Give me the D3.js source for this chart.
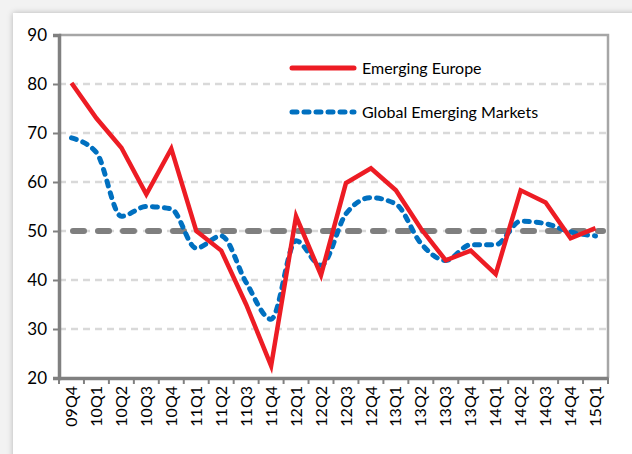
<!DOCTYPE html>
<html>
<head>
<meta charset="utf-8">
<script src="https://cdn.jsdelivr.net/npm/d3@7"></script>
<style>
  body { margin: 0; background: #f2f2f2; font-family: Lato, "Open Sans", sans-serif; }
  #card { position: absolute; left: 13px; top: 13px; width: 640px; height: 460px; background: #fff;
          box-shadow: 0 0 6px rgba(0,0,0,0.25); }
  svg { position: absolute; left: 0; top: 0; }
</style>
</head>
<body>
<div id="card"></div>
<svg id="chart" width="632" height="454"></svg>
<script>
// quarters along the x axis
var quarters = ["09Q4","10Q1","10Q2","10Q3","10Q4","11Q1","11Q2","11Q3","11Q4","12Q1","12Q2",
                "12Q3","12Q4","13Q1","13Q2","13Q3","13Q4","14Q1","14Q2","14Q3","14Q4","15Q1"];
var europe = [80.2, 73, 67, 57.5, 66.8, 50, 46, 35, 22.5, 53, 41,
              59.8, 62.8, 58.3, 50.5, 44, 46, 41.2, 58.3, 55.8, 48.5, 50.6];
var globalEM = [69, 66, 53, 55, 54.5, 46.5, 49, 39.5, 32, 48, 43,
                53.5, 56.8, 55.5, 47.5, 44, 47.2, 47.2, 52, 51.5, 49.8, 49];
var yTicks = [20, 30, 40, 50, 60, 70, 80, 90];
var neutral = 50;

var plotL = 59, plotR = 608, plotT = 35, plotB = 378;
var svg = d3.select("#chart");

var x = d3.scaleBand().domain(quarters).range([plotL, plotR]);
var y = d3.scaleLinear().domain([20, 90]).range([plotB, plotT]);

// grid lines
svg.selectAll(".grid").data(yTicks.filter(function(d){ return d != 20 && d != 90; }))
  .enter().append("line")
  .attr("x1", plotL).attr("x2", plotR)
  .attr("y1", function(d){ return y(d); }).attr("y2", function(d){ return y(d); })
  .attr("stroke", "#d9d9d9").attr("stroke-width", 2.5).attr("stroke-dasharray", "7,5");

// top and right frame
svg.append("path")
  .attr("d", "M" + plotL + "," + plotT + "H" + plotR + "V" + plotB)
  .attr("fill", "none").attr("stroke", "#a6a6a6").attr("stroke-width", 2.5);

// 50 threshold
svg.append("line")
  .attr("x1", plotL + 14).attr("x2", plotR - 5)
  .attr("y1", y(neutral)).attr("y2", y(neutral))
  .attr("stroke", "#7f7f7f").attr("stroke-width", 6)
  .attr("stroke-dasharray", "11,14").attr("stroke-linecap", "round");

// axes
var yAxis = svg.append("g").attr("transform", "translate(" + plotL + ",0)")
  .call(d3.axisLeft(y).tickValues(yTicks).tickSize(6).tickPadding(6));
var xAxis = svg.append("g").attr("transform", "translate(0," + plotB + ")")
  .call(d3.axisBottom(x).tickSize(0).tickPadding(8));

yAxis.selectAll("line").attr("stroke", "#808080").attr("stroke-width", 2);
yAxis.select(".domain").attr("stroke", "#808080").attr("stroke-width", 3.5);
yAxis.selectAll("text").attr("font-size", 17).attr("fill", "#000").attr("font-family", "Lato");

xAxis.select(".domain").attr("stroke", "#808080").attr("stroke-width", 3.5);
xAxis.selectAll("text")
  .attr("font-size", 16).attr("fill", "#000").attr("font-family", "Lato")
  .attr("transform", "rotate(-90)")
  .attr("text-anchor", "end")
  .attr("x", -8).attr("y", 0).attr("dy", "0.35em");

// tick marks at category borders
var borders = quarters.map(function(q){ return x(q); }).concat([plotR]);
xAxis.selectAll(".border").data(borders).enter().append("line")
  .attr("x1", function(d){ return d; }).attr("x2", function(d){ return d; })
  .attr("y1", 0).attr("y2", 6)
  .attr("stroke", "#808080").attr("stroke-width", 2);

var cx = function(d, i){ return x(quarters[i]) + x.bandwidth() / 2; };

svg.append("path").datum(globalEM)
  .attr("d", d3.line().x(cx).y(function(d){ return y(d); }).curve(d3.curveMonotoneX))
  .attr("fill", "none").attr("stroke", "#0070c0").attr("stroke-width", 5)
  .attr("stroke-dasharray", "5,7").attr("stroke-linecap", "round");

svg.append("path").datum(europe)
  .attr("d", d3.line().x(cx).y(function(d){ return y(d); }))
  .attr("fill", "none").attr("stroke", "#ed1c24").attr("stroke-width", 4.5)
  .attr("stroke-linejoin", "miter");

// legend
var legend = [
  {name: "Emerging Europe", color: "#ed1c24", dash: null, ly: 68},
  {name: "Global Emerging Markets", color: "#0070c0", dash: "5,7", ly: 112}
];
var lg = svg.selectAll(".legend").data(legend).enter().append("g");
lg.append("line")
  .attr("x1", 292).attr("x2", 354)
  .attr("y1", function(d){ return d.ly; }).attr("y2", function(d){ return d.ly; })
  .attr("stroke", function(d){ return d.color; }).attr("stroke-width", 5)
  .attr("stroke-dasharray", function(d){ return d.dash; })
  .attr("stroke-linecap", "round");
lg.append("text")
  .attr("x", 362).attr("y", function(d){ return d.ly; }).attr("dy", "0.35em")
  .attr("font-size", 16).attr("font-family", "Lato")
  .text(function(d){ return d.name; });
</script>
</body>
</html>
